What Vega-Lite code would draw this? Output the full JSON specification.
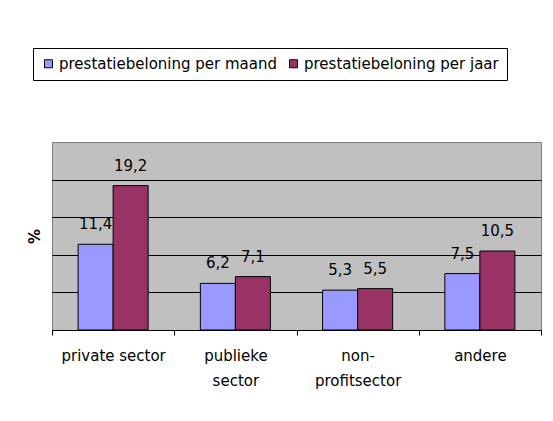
{
  "$schema": "https://vega.github.io/schema/vega-lite/v6.json",
  "width": 489,
  "height": 188,
  "autosize": "none",
  "padding": {"left": 52, "top": 142, "right": 12, "bottom": 91},
  "background": "white",
  "config": {
    "locale": {"number": {"decimal": ",", "thousands": ".", "grouping": [3], "currency": ["€", ""]}},
    "view": {"fill": "#C0C0C0", "stroke": "#808080"},
    "font": "DejaVu Sans"
  },
  "data": {
    "values": [
      {"sector": "private sector", "reeks": "prestatiebeloning per maand", "waarde": 11.4},
      {"sector": "private sector", "reeks": "prestatiebeloning per jaar", "waarde": 19.2},
      {"sector": "publieke sector", "reeks": "prestatiebeloning per maand", "waarde": 6.2},
      {"sector": "publieke sector", "reeks": "prestatiebeloning per jaar", "waarde": 7.1},
      {"sector": "non-profitsector", "reeks": "prestatiebeloning per maand", "waarde": 5.3},
      {"sector": "non-profitsector", "reeks": "prestatiebeloning per jaar", "waarde": 5.5},
      {"sector": "andere", "reeks": "prestatiebeloning per maand", "waarde": 7.5},
      {"sector": "andere", "reeks": "prestatiebeloning per jaar", "waarde": 10.5}
    ]
  },
  "encoding": {
    "x": {
      "field": "sector",
      "type": "nominal",
      "sort": ["private sector", "publieke sector", "non-profitsector", "andere"],
      "scale": {"paddingInner": 0, "paddingOuter": 0},
      "axis": {
        "title": null,
        "labelAngle": 0,
        "labelFont": "DejaVu Sans",
        "labelFontSize": 15,
        "labelColor": "black",
        "labelBaseline": "top",
        "labelLineHeight": 25,
        "labelPadding": 13,
        "labelLimit": 300,
        "labelExpr": "datum.value == 'publieke sector' ? ['publieke', 'sector'] : datum.value == 'non-profitsector' ? ['non-', 'profitsector'] : datum.value",
        "domainColor": "black",
        "tickColor": "black",
        "tickSize": 5,
        "tickBand": "extent",
        "grid": false
      }
    },
    "xOffset": {
      "field": "reeks",
      "type": "nominal",
      "sort": ["prestatiebeloning per maand", "prestatiebeloning per jaar"],
      "scale": {"paddingInner": 0, "paddingOuter": 0.745}
    },
    "y": {
      "field": "waarde",
      "type": "quantitative",
      "scale": {"domain": [0, 25], "nice": false},
      "axis": {
        "title": "%",
        "titleFont": "DejaVu Sans",
        "titleFontSize": 15,
        "titleFontWeight": "bold",
        "titleColor": "black",
        "titlePadding": 10,
        "labels": false,
        "ticks": false,
        "domain": false,
        "grid": true,
        "gridColor": "black",
        "gridOpacity": 1,
        "values": [5, 10, 15, 20]
      }
    }
  },
  "layer": [
    {
      "mark": {"type": "bar", "stroke": "black", "strokeWidth": 1, "opacity": 1},
      "encoding": {
        "color": {
          "field": "reeks",
          "type": "nominal",
          "sort": ["prestatiebeloning per maand", "prestatiebeloning per jaar"],
          "scale": {"range": ["#9999FF", "#993366"]},
          "legend": {
            "orient": "none",
            "legendX": -19,
            "legendY": -94,
            "direction": "horizontal",
            "title": null,
            "symbolType": "square",
            "symbolSize": 64,
            "symbolStrokeColor": "black",
            "symbolStrokeWidth": 1,
            "symbolOpacity": 1,
            "labelFont": "DejaVu Sans",
            "labelFontSize": 15,
            "labelColor": "black",
            "labelOffset": 3,
            "labelLimit": 300,
            "columnPadding": 8,
            "padding": 8,
            "strokeColor": "black",
            "fillColor": "white"
          }
        }
      }
    },
    {
      "mark": {"type": "text", "dy": -20, "baseline": "middle", "align": "center", "fontSize": 15, "font": "DejaVu Sans", "color": "black"},
      "encoding": {
        "text": {"field": "waarde", "type": "quantitative", "format": ".1f"}
      }
    }
  ]
}
